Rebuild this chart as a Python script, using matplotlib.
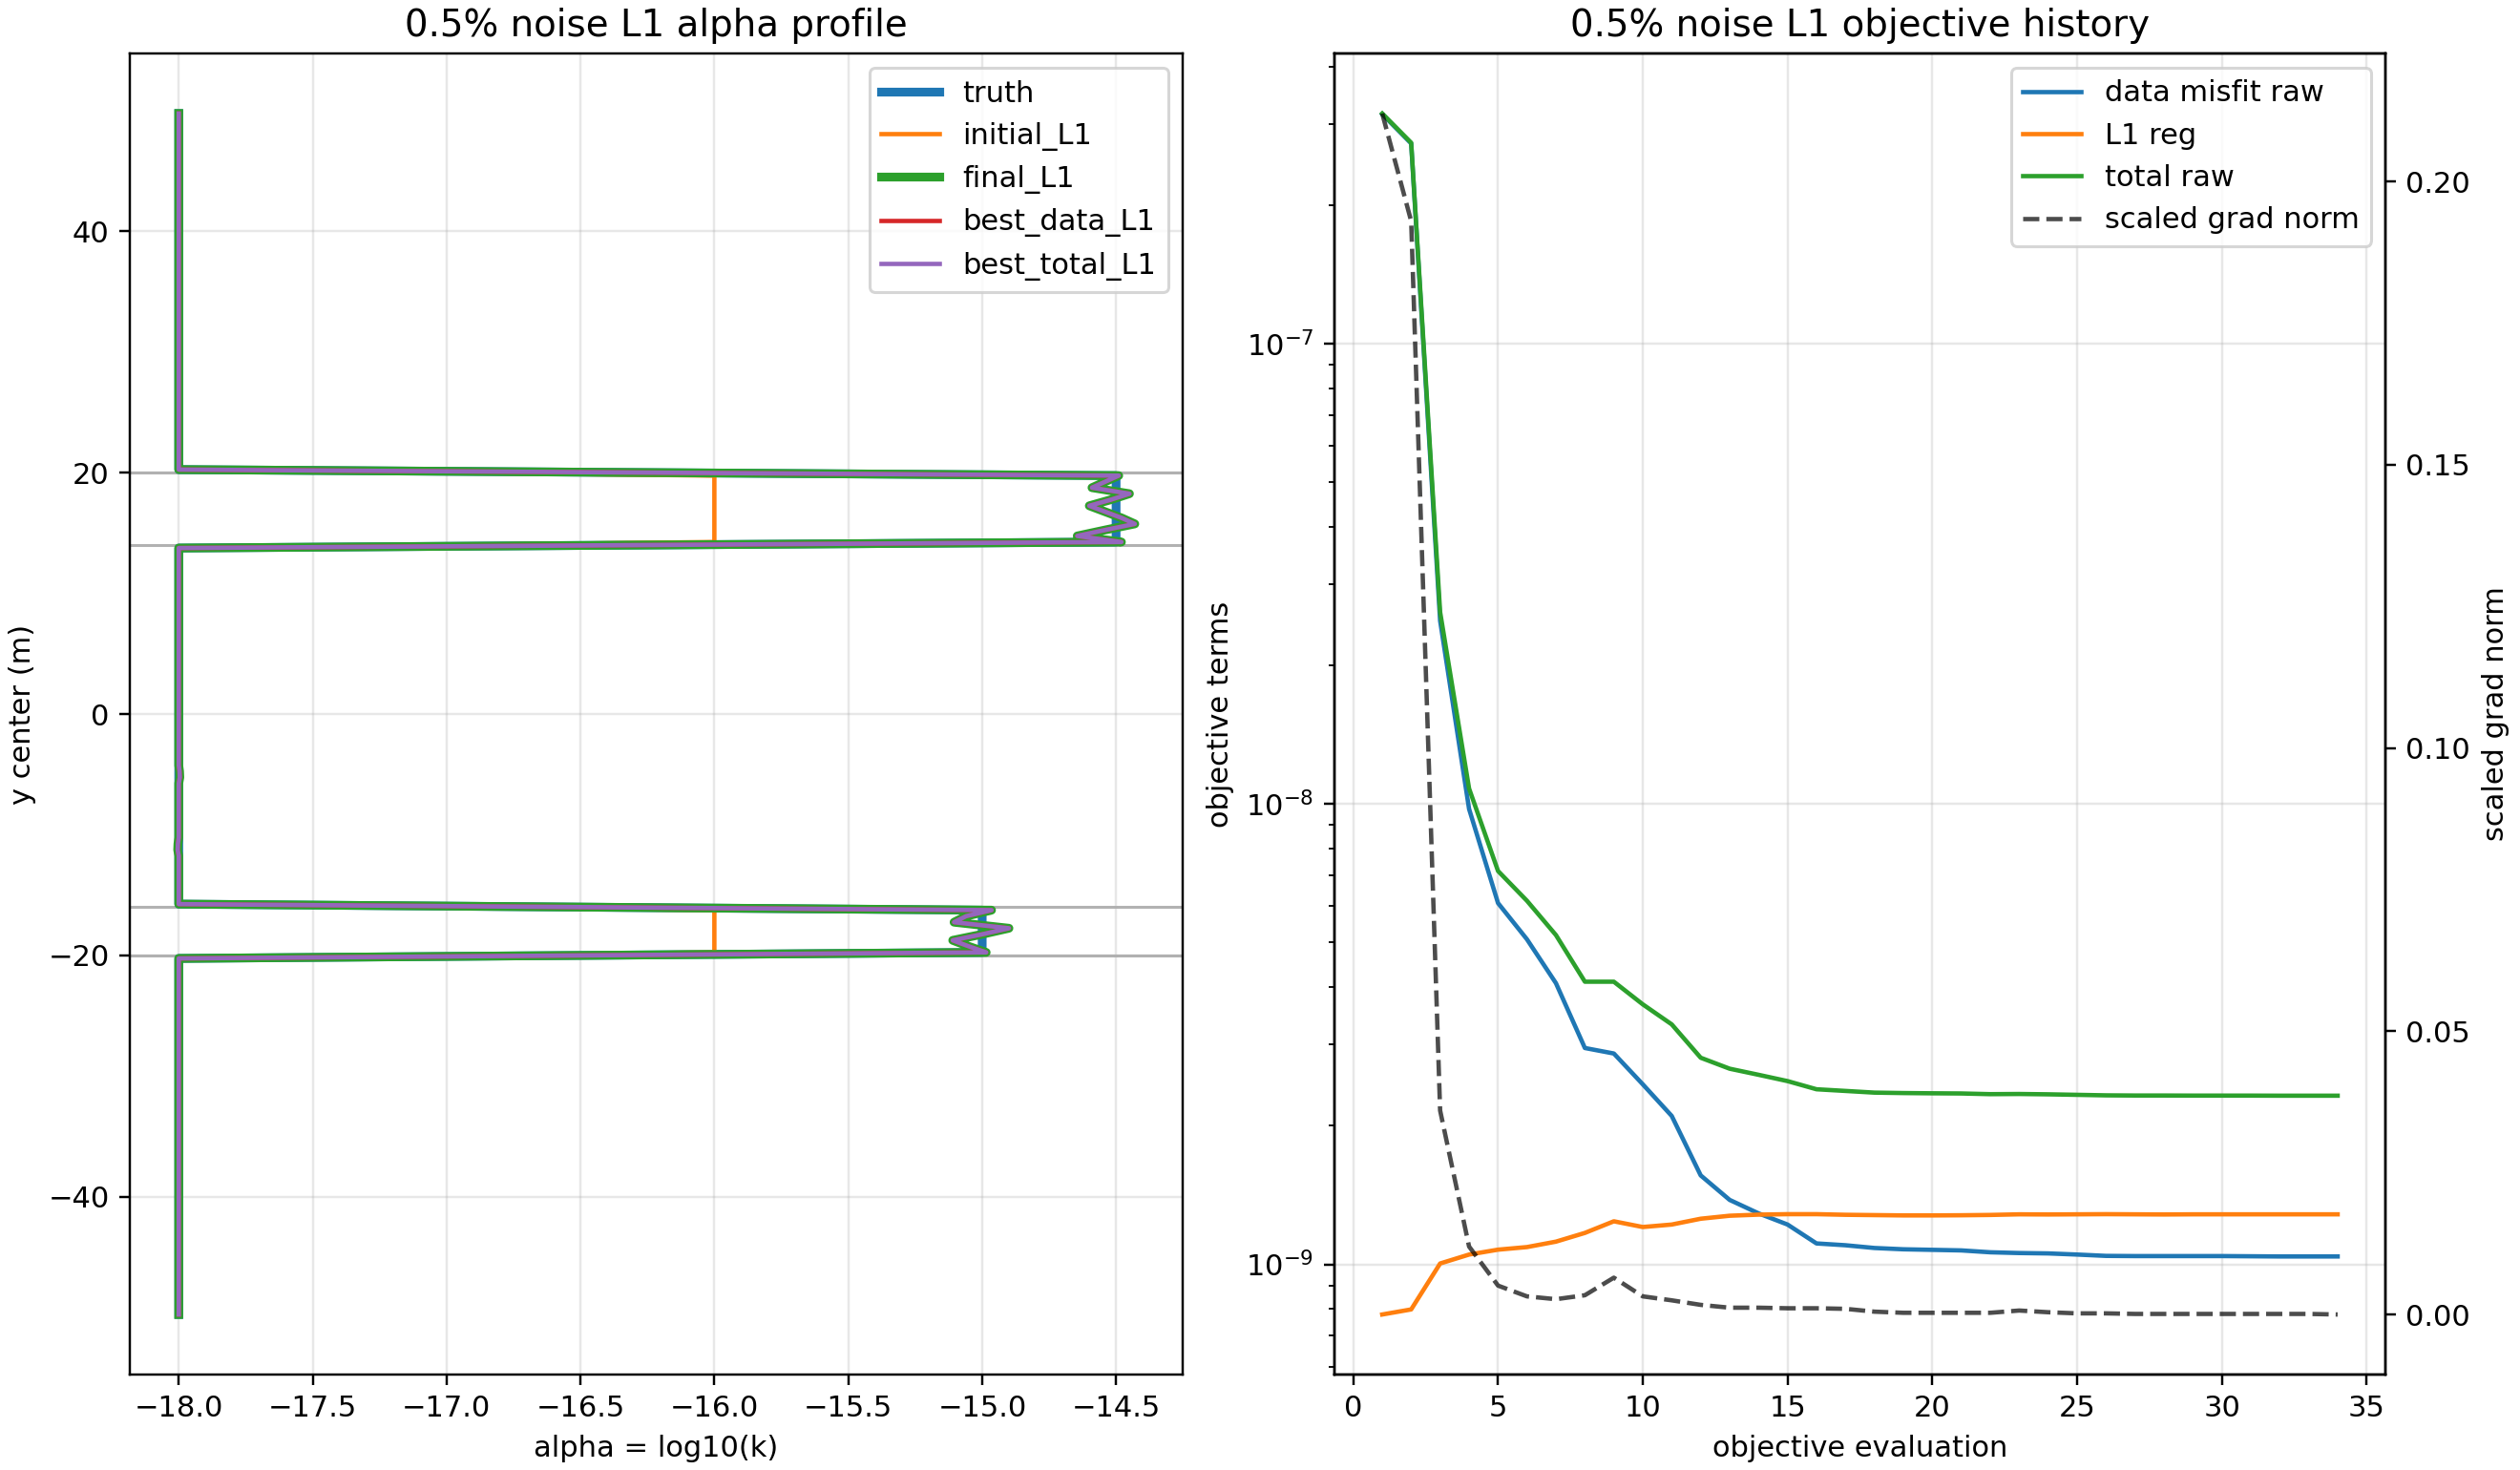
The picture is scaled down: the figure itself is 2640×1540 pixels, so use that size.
import numpy as np
import matplotlib
matplotlib.use("Agg")
import matplotlib.pyplot as plt

# ---------------- profile data ----------------
y_step = 0.5
y_min, y_max = -50.0, 50.0
alpha_background = -18.0
zone_upper = (14.0, 20.0)
zone_lower = (-20.0, -16.0)
truth_upper = -14.5
truth_lower = -15.0
initial_zone_value = -16.0

# final L1 estimate inside the zones (cell centres from top to bottom)
final_upper_y = [19.75, 19.25, 18.75, 18.25, 17.75, 17.25, 16.75, 16.25, 15.75, 15.25, 14.75, 14.25]
final_upper_a = [-14.49, -14.54, -14.59, -14.45, -14.52, -14.60, -14.54, -14.48, -14.43, -14.54, -14.645, -14.48]
final_lower_y = [-16.25, -16.75, -17.25, -17.75, -18.25, -18.75, -19.25, -19.75]
final_lower_a = [-14.965, -15.06, -15.105, -14.90, -15.00, -15.11, -15.05, -14.985]
# tiny background wiggles of the final estimate
final_wiggle_y = [-4.75, -5.25, -10.75, -11.25]
final_wiggle_a = [-17.997, -17.996, -18.003, -18.004]

# horizontal reference lines (zone boundaries)
boundaries = [20.0, 14.0, -16.0, -20.0]

# ---------------- objective history ----------------
evals = list(range(1, 35))
data_misfit = [3.15e-7, 2.72e-7, 2.50e-8, 9.75e-9, 6.09e-9, 5.08e-9, 4.08e-9, 2.95e-9, 2.87e-9,
               2.46e-9, 2.10e-9, 1.56e-9, 1.38e-9, 1.29e-9, 1.22e-9, 1.11e-9, 1.10e-9, 1.085e-9,
               1.078e-9, 1.075e-9, 1.072e-9, 1.062e-9, 1.058e-9, 1.056e-9, 1.050e-9, 1.043e-9,
               1.042e-9, 1.042e-9, 1.042e-9, 1.042e-9, 1.041e-9, 1.040e-9, 1.040e-9, 1.040e-9]
l1_reg = [7.78e-10, 7.98e-10, 1.004e-9, 1.05e-9, 1.076e-9, 1.09e-9, 1.12e-9, 1.17e-9, 1.24e-9,
          1.205e-9, 1.22e-9, 1.256e-9, 1.275e-9, 1.282e-9, 1.285e-9, 1.285e-9, 1.281e-9, 1.279e-9,
          1.277e-9, 1.277e-9, 1.278e-9, 1.280e-9, 1.284e-9, 1.283e-9, 1.284e-9, 1.285e-9,
          1.284e-9, 1.283e-9, 1.284e-9, 1.284e-9, 1.284e-9, 1.284e-9, 1.284e-9, 1.284e-9]
total_raw = [3.16e-7, 2.73e-7, 2.61e-8, 1.08e-8, 7.15e-9, 6.16e-9, 5.19e-9, 4.11e-9, 4.11e-9,
             3.67e-9, 3.32e-9, 2.81e-9, 2.66e-9, 2.58e-9, 2.50e-9, 2.40e-9, 2.38e-9, 2.36e-9,
             2.355e-9, 2.352e-9, 2.350e-9, 2.342e-9, 2.344e-9, 2.340e-9, 2.334e-9, 2.328e-9,
             2.326e-9, 2.326e-9, 2.325e-9, 2.325e-9, 2.325e-9, 2.324e-9, 2.324e-9, 2.324e-9]
grad_norm = [0.212, 0.193, 0.036, 0.012, 0.0051, 0.0032, 0.0027, 0.0034, 0.0065,
             0.0032, 0.0025, 0.0017, 0.0012, 0.0012, 0.0011, 0.0011, 0.0010, 0.0005,
             0.0003, 0.0003, 0.0003, 0.0003, 0.0007, 0.0004, 0.0002, 0.0002,
             0.0001, 0.0001, 0.0001, 0.0001, 0.0001, 0.0001, 0.0001, 0.0]

# ---------------- build profiles ----------------
yc = np.arange(y_min + y_step / 2, y_max, y_step)
in_up = (yc > zone_upper[0]) & (yc < zone_upper[1])
in_lo = (yc > zone_lower[0]) & (yc < zone_lower[1])

truth = np.full_like(yc, alpha_background)
truth[in_up] = truth_upper
truth[in_lo] = truth_lower

initial = np.full_like(yc, alpha_background)
initial[in_up | in_lo] = initial_zone_value

final = np.full_like(yc, alpha_background)
for yy, aa in zip(final_upper_y + final_lower_y + final_wiggle_y,
                  final_upper_a + final_lower_a + final_wiggle_a):
    final[np.argmin(np.abs(yc - yy))] = aa
best_data = final.copy()
best_total = final.copy()

# ---------------- figure ----------------
DPI = 220
W, H = 2640, 1540
fig = plt.figure(figsize=(W / DPI, H / DPI), dpi=DPI)
ax1 = fig.add_axes([136 / W, 1 - 1440 / H, 1103 / W, (1440 - 56) / H])
ax2 = fig.add_axes([1398 / W, 1 - 1440 / H, 1101 / W, (1440 - 56) / H])

for b in boundaries:
    ax1.axhline(b, color="gray", alpha=0.6, lw=1.0, zorder=1.5)
ax1.plot(truth, yc, color="C0", lw=3, label="truth")
ax1.plot(initial, yc, color="C1", lw=1.5, label="initial_L1")
ax1.plot(final, yc, color="C2", lw=3, label="final_L1")
ax1.plot(best_data, yc, color="C3", lw=1.5, label="best_data_L1")
ax1.plot(best_total, yc, color="C4", lw=1.5, label="best_total_L1")
ax1.set_xlabel("alpha = log10(k)")
ax1.set_ylabel("y center (m)")
ax1.set_title("0.5% noise L1 alpha profile", fontsize=12.7)
ax1.grid(True, alpha=0.3)
ax1.legend(loc="upper right")

l1, = ax2.plot(evals, data_misfit, color="C0", lw=1.5, label="data misfit raw")
l2, = ax2.plot(evals, l1_reg, color="C1", lw=1.5, label="L1 reg")
l3, = ax2.plot(evals, total_raw, color="C2", lw=1.5, label="total raw")
ax2.set_yscale("log")
ax2.set_xlabel("objective evaluation")
ax2.set_ylabel("objective terms")
ax2.set_title("0.5% noise L1 objective history", fontsize=12.7)
ax2.grid(True, alpha=0.3)
ax3 = ax2.twinx()
l4, = ax3.plot(evals, grad_norm, color="k", alpha=0.7, ls="--", lw=1.5, label="scaled grad norm")
ax3.set_ylabel("scaled grad norm")
ax3.legend([l1, l2, l3, l4], [l.get_label() for l in (l1, l2, l3, l4)], loc="upper right")

fig.savefig("out.png", dpi=DPI)
